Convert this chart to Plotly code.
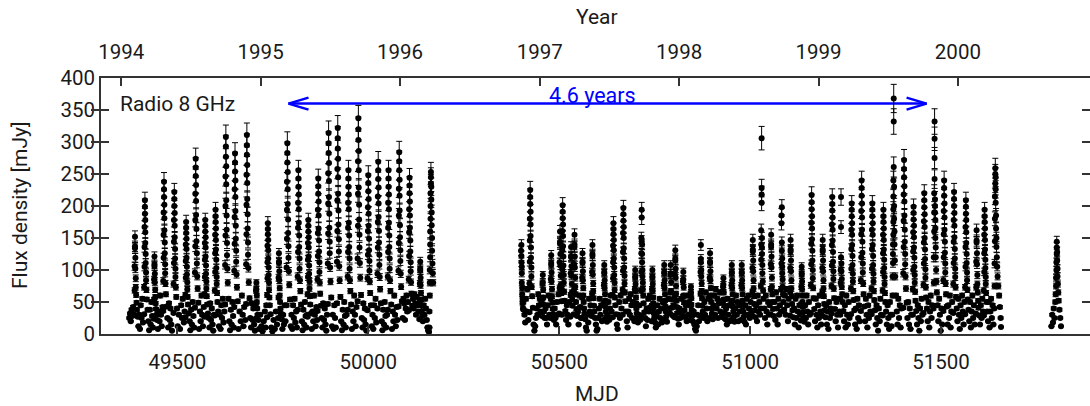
import plotly.graph_objects as go
from datetime import date

# ---- observations read off the reference picture, one row per ~26.5-day outburst cycle ----
# mjd_rows[i] and flux_rows[i] belong together (MJD, flux density in mJy)
mjd_rows = [
    [49374, 49376, 49378, 49380, 49382, 49384, 49385],
    [49387, 49388, 49388, 49389, 49389, 49389, 49390, 49390, 49391, 49391, 49392, 49393, 49394, 49396, 49398, 49400, 49402, 49404, 49406, 49408, 49410],
    [49413, 49413, 49414, 49414, 49414, 49415, 49415, 49415, 49416, 49416, 49416, 49417, 49417, 49418, 49418, 49419, 49420, 49422, 49424, 49426, 49428, 49430, 49432, 49434, 49436],
    [49438, 49439, 49439, 49440, 49440, 49440, 49441, 49441, 49442, 49442, 49443, 49444, 49445, 49447, 49449, 49451, 49453, 49455, 49457, 49459, 49461],
    [49463, 49463, 49464, 49464, 49464, 49465, 49465, 49465, 49466, 49466, 49466, 49467, 49467, 49468, 49468, 49469, 49470, 49472, 49474, 49476, 49478, 49480, 49482, 49484, 49486],
    [49490, 49490, 49491, 49491, 49491, 49492, 49492, 49492, 49493, 49493, 49493, 49494, 49494, 49495, 49495, 49496, 49497, 49499, 49501, 49504, 49507, 49510, 49512, 49514, 49517, 49519],
    [49521, 49521, 49522, 49522, 49522, 49523, 49523, 49523, 49524, 49524, 49524, 49525, 49525, 49526, 49526, 49527, 49528, 49530, 49532, 49534, 49536, 49538, 49540, 49542, 49544],
    [49546, 49546, 49547, 49547, 49547, 49548, 49548, 49548, 49549, 49549, 49549, 49550, 49550, 49551, 49551, 49552, 49553, 49555, 49557, 49559, 49561, 49563, 49565, 49567, 49569],
    [49571, 49571, 49572, 49572, 49572, 49573, 49573, 49573, 49574, 49574, 49574, 49575, 49575, 49576, 49576, 49577, 49578, 49580, 49582, 49584, 49586, 49588, 49590, 49592, 49594, 49596],
    [49598, 49598, 49599, 49599, 49599, 49600, 49600, 49600, 49601, 49601, 49601, 49602, 49602, 49603, 49603, 49604, 49605, 49607, 49609, 49611, 49613, 49615, 49617, 49619, 49621, 49623],
    [49625, 49625, 49626, 49626, 49626, 49627, 49627, 49627, 49628, 49628, 49628, 49629, 49629, 49630, 49630, 49631, 49632, 49634, 49636, 49638, 49640, 49642, 49644, 49646, 49648],
    [49649, 49649, 49650, 49650, 49650, 49651, 49651, 49651, 49652, 49652, 49652, 49653, 49653, 49654, 49654, 49655, 49656, 49658, 49660, 49663, 49666, 49669, 49671, 49673, 49675, 49678],
    [49680, 49680, 49681, 49681, 49681, 49682, 49682, 49682, 49683, 49683, 49683, 49684, 49684, 49685, 49685, 49686, 49687, 49689, 49691, 49693, 49695, 49697, 49699, 49701, 49703],
    [49705, 49706, 49706, 49707, 49707, 49708, 49708, 49709, 49710, 49712, 49714, 49717, 49720, 49723, 49726, 49729, 49731, 49733],
    [49735, 49735, 49736, 49736, 49736, 49737, 49737, 49737, 49738, 49738, 49738, 49739, 49739, 49740, 49740, 49741, 49742, 49744, 49746, 49749, 49752, 49755, 49758, 49761],
    [49764, 49765, 49765, 49766, 49766, 49766, 49767, 49767, 49768, 49768, 49769, 49770, 49771, 49773, 49775, 49777, 49779, 49781, 49783],
    [49786, 49786, 49787, 49787, 49787, 49788, 49788, 49788, 49789, 49789, 49789, 49790, 49790, 49791, 49791, 49792, 49793, 49795, 49797, 49799, 49801, 49803, 49805, 49807, 49809, 49811, 49813],
    [49815, 49815, 49816, 49816, 49816, 49817, 49817, 49817, 49818, 49818, 49818, 49819, 49819, 49820, 49820, 49821, 49822, 49824, 49826, 49828, 49830, 49832, 49834, 49836, 49838, 49840],
    [49841, 49841, 49842, 49842, 49842, 49843, 49843, 49843, 49844, 49844, 49844, 49845, 49845, 49846, 49846, 49847, 49848, 49850, 49852, 49854, 49856, 49858, 49860, 49862, 49864, 49866],
    [49867, 49867, 49868, 49868, 49868, 49869, 49869, 49869, 49870, 49870, 49870, 49871, 49871, 49872, 49872, 49873, 49874, 49876, 49878, 49880, 49882, 49884, 49886, 49888, 49890, 49892],
    [49894, 49894, 49895, 49895, 49895, 49896, 49896, 49896, 49897, 49897, 49897, 49898, 49898, 49899, 49899, 49900, 49901, 49903, 49905, 49907, 49909, 49911, 49913, 49915],
    [49918, 49918, 49919, 49919, 49919, 49920, 49920, 49920, 49921, 49921, 49921, 49922, 49922, 49923, 49923, 49924, 49925, 49927, 49929, 49931, 49933, 49935, 49937, 49939, 49941, 49943],
    [49946, 49946, 49947, 49947, 49947, 49948, 49948, 49948, 49949, 49949, 49949, 49950, 49950, 49951, 49951, 49952, 49953, 49955, 49957, 49959, 49961, 49963, 49965, 49967, 49969],
    [49972, 49972, 49973, 49973, 49973, 49974, 49974, 49974, 49975, 49975, 49975, 49976, 49976, 49977, 49977, 49978, 49979, 49981, 49983, 49985, 49987, 49989, 49991, 49993, 49995],
    [49998, 49998, 49999, 49999, 49999, 50000, 50000, 50000, 50001, 50001, 50001, 50002, 50002, 50003, 50003, 50004, 50005, 50007, 50009, 50011, 50013, 50015, 50017, 50019, 50021],
    [50024, 50024, 50025, 50025, 50025, 50026, 50026, 50026, 50027, 50027, 50027, 50028, 50028, 50029, 50029, 50030, 50031, 50033, 50035, 50037, 50039, 50041, 50043, 50045, 50047, 50049],
    [50051, 50051, 50052, 50052, 50052, 50053, 50053, 50053, 50054, 50054, 50054, 50055, 50055, 50056, 50056, 50057, 50058, 50060, 50062, 50064, 50066, 50068, 50070, 50072, 50074, 50076],
    [50079, 50079, 50080, 50080, 50080, 50081, 50081, 50081, 50082, 50082, 50082, 50083, 50083, 50084, 50084, 50085, 50086, 50088, 50090, 50092, 50094, 50096, 50098, 50100, 50102, 50104],
    [50106, 50106, 50107, 50107, 50107, 50108, 50108, 50108, 50109, 50109, 50109, 50110, 50110, 50111, 50111, 50112, 50113, 50115, 50117, 50119, 50121, 50123, 50125, 50127, 50129, 50131],
    [50134, 50135, 50135, 50136, 50136, 50136, 50137, 50137, 50138, 50138, 50139, 50140, 50141, 50143, 50145, 50147, 50149, 50151, 50153, 50155, 50157],
    [50159, 50160, 50160, 50161, 50161, 50161, 50162, 50162, 50162, 50163, 50163, 50163, 50164, 50164, 50164, 50165, 50165, 50166, 50166, 50167, 50167, 50168, 50169, 50170],
    [50400, 50401, 50401, 50401, 50402, 50402, 50402, 50403, 50403, 50404, 50404, 50405, 50406, 50407, 50409, 50411, 50413, 50415, 50417, 50419],
    [50422, 50422, 50423, 50423, 50423, 50424, 50424, 50424, 50425, 50425, 50425, 50426, 50426, 50427, 50427, 50428, 50429, 50431, 50433, 50435, 50437, 50439, 50441, 50443, 50445, 50447],
    [50455, 50456, 50456, 50457, 50457, 50458, 50458, 50459, 50460, 50462, 50449, 50451, 50453, 50464, 50466, 50468, 50470, 50472, 50474],
    [50477, 50478, 50478, 50479, 50479, 50479, 50480, 50480, 50481, 50481, 50482, 50483, 50484, 50486, 50488, 50490, 50492, 50494, 50496, 50498],
    [50500, 50501, 50501, 50502, 50502, 50502, 50503, 50503, 50504, 50504, 50505, 50506],
    [50507, 50507, 50508, 50508, 50508, 50509, 50509, 50509, 50510, 50510, 50510, 50511, 50511, 50512, 50512, 50513, 50514, 50516, 50518, 50520, 50522, 50524, 50526],
    [50529, 50530, 50530, 50531, 50531, 50531, 50532, 50532, 50533, 50533, 50534, 50535],
    [50538, 50539, 50539, 50540, 50540, 50540, 50541, 50541, 50542, 50542, 50543, 50544, 50545, 50547, 50549, 50551, 50553, 50555, 50557],
    [50559, 50560, 50560, 50561, 50561, 50561, 50562, 50562, 50563, 50563, 50564, 50565, 50566, 50568, 50570, 50572, 50574, 50576, 50578, 50580, 50582],
    [50585, 50586, 50586, 50587, 50587, 50587, 50588, 50588, 50589, 50589, 50590, 50591, 50592, 50594, 50596, 50598, 50600, 50602, 50604, 50606, 50608, 50610, 50612],
    [50616, 50617, 50617, 50618, 50618, 50618, 50619, 50619, 50620, 50620, 50621, 50622, 50623, 50625, 50627, 50629, 50631, 50633, 50635, 50637],
    [50640, 50640, 50641, 50641, 50641, 50642, 50642, 50642, 50643, 50643, 50643, 50644, 50644, 50645, 50645, 50646, 50647, 50649, 50651, 50653, 50655, 50657, 50659, 50661, 50663],
    [50666, 50666, 50667, 50667, 50667, 50668, 50668, 50668, 50669, 50669, 50669, 50670, 50670, 50671, 50671, 50672, 50673, 50675, 50677, 50679, 50681, 50683, 50685, 50687, 50689, 50691, 50693],
    [50697, 50698, 50698, 50699, 50699, 50699, 50700, 50700, 50701, 50701, 50702, 50703, 50704, 50706, 50708, 50710, 50712],
    [50714, 50714, 50715, 50715, 50715, 50716, 50716, 50716, 50717, 50717, 50717, 50718, 50718, 50719, 50719, 50720, 50721, 50723, 50725, 50727, 50729, 50731, 50733, 50735, 50737, 50739],
    [50742, 50743, 50743, 50744, 50744, 50744, 50745, 50745, 50746, 50746, 50747, 50748, 50749, 50751, 50753, 50755, 50757, 50759, 50761, 50763, 50765, 50767, 50769, 50771],
    [50773, 50774, 50774, 50775, 50775, 50775, 50776, 50776, 50777, 50777, 50778, 50779, 50780, 50782, 50784, 50786, 50788],
    [50790, 50791, 50791, 50792, 50792, 50793, 50793, 50794, 50795, 50797, 50799],
    [50802, 50803, 50803, 50804, 50804, 50804, 50805, 50805, 50806, 50806, 50807, 50808, 50809, 50811, 50813, 50815, 50817, 50819, 50821],
    [50823, 50824, 50824, 50825, 50825, 50826, 50826, 50827, 50828, 50830, 50832, 50834, 50836, 50838, 50840],
    [50843, 50844, 50844, 50845, 50845, 50846, 50846, 50847, 50848, 50850, 50852, 50854, 50856, 50858, 50860, 50862, 50864, 50866],
    [50869, 50870, 50870, 50871, 50871, 50871, 50872, 50872, 50873, 50873, 50874, 50875, 50876, 50878, 50880, 50882, 50884, 50886, 50888, 50890],
    [50893, 50894, 50894, 50895, 50895, 50895, 50896, 50896, 50897, 50897, 50898, 50899, 50900, 50902, 50904, 50906, 50908, 50910, 50912, 50914, 50916, 50918, 50920, 50922, 50924, 50926],
    [50928, 50929, 50929, 50930, 50930, 50931, 50931, 50932, 50933, 50935, 50937, 50939, 50941, 50943, 50945, 50947],
    [50950, 50951, 50951, 50952, 50952, 50952, 50953, 50953, 50954, 50954, 50955, 50956, 50957, 50959, 50961, 50963, 50965, 50967, 50969, 50971, 50973],
    [50976, 50977, 50977, 50978, 50978, 50978, 50979, 50979, 50980, 50980, 50981, 50982, 50983, 50985, 50987, 50989, 50991, 50993, 50995, 50997, 50999, 51001, 51003],
    [51005, 51006, 51006, 51007, 51007, 51007, 51008, 51008, 51009, 51009, 51010, 51011, 51012, 51014, 51016, 51018, 51020, 51022, 51024, 51026],
    [51028, 51028, 51029, 51029, 51029, 51030, 51030, 51030, 51030, 51031, 51031, 51031, 51032, 51032, 51033, 51034, 51035, 51037, 51039, 51041, 51043, 51045, 51047, 51049, 51051],
    [51053, 51054, 51054, 51055, 51055, 51055, 51056, 51056, 51057, 51057, 51058, 51059, 51060, 51062, 51064, 51066, 51068, 51070, 51072, 51074, 51076, 51078],
    [51081, 51081, 51082, 51082, 51082, 51083, 51083, 51083, 51084, 51084, 51084, 51085, 51085, 51086, 51087, 51089, 51091, 51093, 51095, 51097, 51099, 51101],
    [51104, 51105, 51105, 51106, 51106, 51106, 51107, 51107, 51108, 51108, 51109, 51110, 51111, 51113, 51115, 51117, 51119, 51121, 51123, 51125, 51127, 51129, 51131],
    [51133, 51134, 51134, 51135, 51135, 51135, 51136, 51136, 51137, 51137, 51138, 51139, 51140, 51142, 51144, 51146, 51148, 51150, 51152, 51154, 51156],
    [51159, 51159, 51160, 51160, 51160, 51161, 51161, 51161, 51162, 51162, 51162, 51163, 51163, 51164, 51164, 51165, 51166, 51168, 51170, 51172, 51174, 51176, 51178, 51180, 51182, 51184, 51186],
    [51188, 51189, 51189, 51190, 51190, 51190, 51191, 51191, 51192, 51192, 51193, 51194, 51195, 51197, 51199, 51201, 51203, 51205, 51207, 51209, 51211],
    [51213, 51213, 51214, 51214, 51214, 51215, 51215, 51215, 51216, 51216, 51216, 51217, 51217, 51218, 51218, 51219, 51220, 51222, 51224, 51226, 51228, 51230, 51232, 51234],
    [51236, 51236, 51237, 51237, 51238, 51238, 51238, 51239, 51239, 51240, 51240, 51241, 51242, 51244, 51246, 51248, 51250, 51252, 51254, 51256, 51258, 51260],
    [51264, 51264, 51265, 51265, 51265, 51266, 51266, 51266, 51267, 51267, 51267, 51268, 51268, 51269, 51269, 51270, 51271, 51273, 51275, 51277, 51279, 51281, 51283, 51285, 51287],
    [51290, 51290, 51291, 51291, 51291, 51292, 51292, 51292, 51293, 51293, 51293, 51294, 51294, 51295, 51295, 51296, 51297, 51299, 51301, 51303, 51305, 51307, 51309, 51311, 51313, 51315],
    [51318, 51318, 51319, 51319, 51319, 51320, 51320, 51320, 51321, 51321, 51321, 51322, 51322, 51323, 51323, 51324, 51325, 51327, 51329, 51331, 51333, 51335, 51337, 51339, 51341, 51343],
    [51347, 51347, 51348, 51348, 51348, 51349, 51349, 51349, 51350, 51350, 51350, 51351, 51351, 51352, 51352, 51353, 51354, 51356, 51358, 51360, 51362, 51364, 51366, 51368, 51370],
    [51372, 51373, 51373, 51374, 51374, 51374, 51375, 51375, 51375, 51375, 51375, 51376, 51376, 51376, 51377, 51377, 51377, 51378, 51378, 51379, 51380, 51382, 51384, 51386, 51388, 51390, 51392, 51394, 51396],
    [51401, 51401, 51402, 51402, 51402, 51403, 51403, 51403, 51404, 51404, 51404, 51405, 51405, 51406, 51406, 51407, 51408, 51410, 51412, 51414, 51416, 51418, 51420, 51422],
    [51426, 51426, 51427, 51427, 51427, 51428, 51428, 51428, 51429, 51429, 51429, 51430, 51430, 51431, 51431, 51432, 51433, 51435, 51437, 51439, 51441, 51443, 51445, 51447, 51449, 51451],
    [51454, 51454, 51455, 51455, 51455, 51456, 51456, 51456, 51457, 51457, 51457, 51458, 51458, 51459, 51459, 51460, 51461, 51463, 51465, 51467, 51469, 51471, 51473, 51475, 51477],
    [51480, 51481, 51481, 51482, 51482, 51482, 51483, 51483, 51483, 51483, 51484, 51484, 51484, 51485, 51485, 51485, 51486, 51486, 51487, 51488, 51489, 51491, 51493, 51495, 51497, 51499, 51501, 51503],
    [51506, 51506, 51507, 51507, 51507, 51508, 51508, 51508, 51509, 51509, 51509, 51510, 51510, 51511, 51511, 51512, 51513, 51515, 51517, 51519, 51521, 51523, 51525, 51527, 51529],
    [51532, 51532, 51533, 51533, 51533, 51534, 51534, 51534, 51535, 51535, 51535, 51536, 51536, 51537, 51537, 51538, 51539, 51541, 51543, 51545, 51547, 51549, 51551, 51553, 51555, 51557, 51559, 51561],
    [51563, 51563, 51564, 51564, 51564, 51565, 51565, 51565, 51566, 51566, 51566, 51567, 51567, 51568, 51568, 51569, 51570, 51572, 51574, 51576, 51578, 51580, 51582, 51584, 51586, 51588],
    [51591, 51592, 51592, 51593, 51593, 51593, 51594, 51594, 51595, 51595, 51596, 51597, 51598, 51600, 51602, 51604, 51606, 51608, 51610],
    [51612, 51612, 51613, 51613, 51613, 51614, 51614, 51614, 51615, 51615, 51615, 51616, 51616, 51617, 51617, 51618, 51619, 51621, 51623, 51625, 51627, 51629, 51631, 51633, 51635, 51637],
    [51639, 51640, 51640, 51641, 51641, 51641, 51642, 51642, 51642, 51643, 51643, 51643, 51644, 51644, 51645, 51645, 51646, 51647, 51648, 51650, 51652, 51654, 51656, 51657],
    [51789, 51791, 51793, 51795, 51797, 51799, 51800, 51801, 51801, 51802, 51802, 51803, 51803, 51803, 51804, 51804, 51805, 51805, 51806, 51807, 51808, 51810, 51812, 51814],
]

flux_rows = [
    [25, 32, 20, 38, 28, 42, 30],
    [30, 68, 106, 134, 152, 137, 119, 102, 87, 73, 61, 49, 38, 27, 12, 30, 8, 45, 25, 55, 18],
    [31, 73, 105, 136, 167, 188, 209, 199, 178, 159, 142, 125, 111, 96, 84, 69, 54, 38, 20, 6, 38, 15, 50, 28, 10],
    [24, 54, 85, 106, 121, 109, 94, 81, 69, 58, 48, 39, 30, 22, 8, 35, 20, 60, 30, 12, 42],
    [36, 83, 119, 155, 190, 214, 238, 226, 202, 181, 162, 143, 126, 109, 95, 79, 62, 43, 25, 10, 48, 22, 40, 15, 5],
    [33, 78, 111, 144, 178, 200, 222, 211, 189, 169, 151, 133, 118, 102, 89, 73, 58, 40, 12, 30, 8, 45, 25, 55, 18, 35],
    [26, 61, 88, 114, 140, 158, 175, 166, 149, 133, 119, 105, 93, 81, 70, 58, 46, 32, 20, 6, 38, 15, 50, 28, 10],
    [41, 96, 137, 178, 219, 247, 274, 260, 233, 208, 186, 164, 145, 126, 110, 90, 71, 49, 8, 35, 20, 60, 30, 12, 42],
    [27, 62, 89, 116, 142, 160, 178, 169, 151, 135, 121, 107, 94, 82, 71, 59, 46, 32, 25, 10, 48, 22, 40, 15, 5, 30],
    [29, 68, 97, 126, 155, 175, 194, 184, 165, 147, 132, 116, 103, 89, 78, 64, 50, 35, 12, 30, 8, 45, 25, 55, 18, 35],
    [46, 108, 154, 200, 246, 277, 308, 293, 262, 234, 209, 185, 163, 142, 123, 102, 80, 55, 20, 6, 38, 15, 50, 28, 10],
    [42, 99, 141, 183, 226, 254, 282, 268, 240, 214, 192, 169, 149, 130, 113, 93, 73, 51, 8, 35, 20, 60, 30, 12, 42, 22],
    [47, 109, 156, 202, 249, 280, 311, 295, 264, 236, 211, 187, 165, 143, 124, 103, 81, 56, 25, 10, 48, 22, 40, 15, 5],
    [24, 48, 68, 80, 70, 60, 50, 40, 30, 22, 8, 30, 12, 4, 20, 35, 10, 45],
    [26, 61, 87, 112, 138, 156, 173, 164, 147, 131, 118, 104, 92, 80, 69, 57, 45, 31, 10, 4, 22, 8, 35, 15],
    [25, 57, 88, 111, 126, 113, 98, 84, 72, 60, 50, 40, 32, 23, 8, 30, 15, 45, 20],
    [45, 104, 149, 194, 238, 268, 298, 283, 253, 226, 203, 179, 158, 137, 119, 98, 77, 54, 12, 30, 8, 45, 25, 55, 18, 35, 10],
    [38, 90, 128, 166, 205, 230, 256, 243, 218, 195, 174, 154, 136, 118, 102, 84, 67, 46, 20, 6, 38, 15, 50, 28, 10, 30],
    [27, 62, 89, 116, 142, 160, 178, 169, 151, 135, 121, 107, 94, 82, 71, 59, 46, 32, 8, 35, 20, 60, 30, 12, 42, 22],
    [36, 85, 122, 158, 194, 219, 243, 231, 207, 185, 165, 146, 129, 112, 97, 80, 63, 44, 25, 10, 48, 22, 40, 15, 5, 30],
    [47, 110, 157, 204, 251, 283, 314, 298, 267, 239, 214, 188, 166, 144, 126, 104, 82, 57, 12, 30, 8, 45, 25, 10],
    [48, 113, 161, 209, 258, 290, 322, 306, 274, 245, 219, 193, 171, 148, 129, 106, 84, 58, 20, 6, 38, 15, 50, 28, 10, 30],
    [38, 90, 128, 166, 205, 230, 256, 243, 218, 195, 174, 154, 136, 118, 102, 84, 67, 46, 8, 35, 20, 60, 30, 12, 42],
    [51, 118, 169, 219, 270, 303, 337, 320, 286, 256, 229, 202, 179, 155, 135, 111, 88, 61, 25, 10, 48, 22, 40, 15, 5],
    [37, 87, 124, 161, 198, 223, 248, 236, 211, 188, 169, 149, 131, 114, 99, 82, 64, 45, 12, 30, 8, 45, 25, 55, 18],
    [40, 94, 135, 175, 215, 242, 269, 256, 229, 204, 183, 161, 143, 124, 108, 89, 70, 48, 20, 6, 38, 15, 50, 28, 10, 30],
    [38, 90, 128, 166, 205, 230, 256, 243, 218, 195, 174, 154, 136, 118, 102, 84, 67, 46, 8, 35, 20, 60, 30, 12, 42, 22],
    [43, 99, 142, 185, 227, 256, 284, 270, 241, 216, 193, 170, 151, 131, 114, 94, 74, 51, 25, 55, 48, 22, 40, 60, 35, 50],
    [37, 85, 122, 159, 195, 220, 244, 232, 207, 185, 166, 146, 129, 112, 98, 81, 63, 44, 55, 40, 62, 48, 30, 58, 45, 35],
    [23, 51, 79, 99, 113, 102, 88, 76, 64, 54, 45, 36, 28, 20, 45, 30, 55, 40, 22, 10, 5],
    [3, 10, 35, 60, 80, 100, 120, 140, 160, 180, 200, 220, 235, 253, 245, 230, 210, 190, 170, 150, 130, 110, 95, 80],
    [130, 139, 122, 112, 105, 95, 80, 72, 62, 55, 48, 40, 50, 38, 30, 18, 55, 35, 70, 22],
    [34, 79, 113, 146, 180, 203, 225, 214, 191, 171, 153, 135, 119, 104, 90, 74, 59, 41, 15, 5, 12, 25, 40, 30, 62, 45],
    [28, 55, 78, 92, 81, 69, 57, 46, 35, 25, 55, 35, 50, 40, 25, 15, 45, 60, 30],
    [25, 55, 86, 108, 123, 111, 96, 82, 70, 59, 49, 39, 31, 22, 40, 25, 15, 50, 30, 62],
    [32, 72, 112, 141, 160, 144, 125, 107, 91, 77, 64, 51],
    [30, 70, 101, 131, 161, 181, 201, 191, 171, 153, 137, 121, 107, 92, 80, 66, 52, 36, 22, 45, 30, 15, 50],
    [27, 61, 95, 120, 136, 122, 106, 91, 78, 65, 54, 44],
    [31, 70, 109, 136, 155, 140, 121, 104, 88, 74, 62, 50, 39, 28, 35, 15, 60, 42, 25],
    [25, 57, 88, 111, 126, 113, 98, 84, 72, 60, 50, 40, 32, 23, 10, 5, 30, 18, 55, 35, 45],
    [28, 63, 97, 122, 139, 125, 108, 93, 79, 67, 56, 44, 35, 25, 15, 5, 8, 25, 40, 55, 30, 45, 20],
    [22, 49, 76, 95, 108, 97, 84, 72, 62, 52, 43, 35, 27, 19, 30, 50, 22, 40, 60, 35],
    [26, 61, 87, 112, 138, 156, 173, 164, 147, 131, 118, 104, 92, 80, 69, 57, 45, 31, 15, 8, 30, 50, 25, 60, 40],
    [30, 69, 99, 128, 158, 177, 197, 187, 167, 150, 134, 118, 104, 91, 79, 65, 51, 35, 20, 10, 35, 55, 30, 62, 45, 25, 50],
    [20, 45, 70, 88, 100, 90, 78, 67, 57, 48, 40, 32, 25, 18, 30, 45, 22],
    [29, 68, 97, 126, 150, 182, 194, 145, 140, 125, 112, 100, 90, 80, 70, 60, 48, 34, 25, 12, 40, 22, 55, 35, 60, 42],
    [20, 45, 70, 88, 100, 90, 78, 67, 57, 48, 40, 32, 25, 18, 10, 28, 45, 15, 35, 55, 25, 40, 18, 50],
    [22, 49, 76, 95, 108, 97, 84, 72, 62, 52, 43, 35, 27, 19, 35, 55, 40],
    [32, 65, 92, 108, 95, 81, 67, 54, 41, 29, 45],
    [26, 59, 92, 115, 131, 118, 102, 88, 75, 63, 52, 42, 33, 24, 15, 40, 25, 55, 35],
    [29, 58, 82, 97, 85, 73, 60, 49, 37, 26, 45, 20, 60, 30, 50],
    [22, 44, 63, 74, 65, 56, 46, 37, 28, 20, 35, 15, 8, 5, 12, 30, 45, 20],
    [28, 63, 97, 117, 139, 112, 100, 90, 79, 67, 56, 44, 35, 25, 50, 30, 65, 40, 20, 55],
    [25, 57, 88, 111, 126, 113, 98, 84, 72, 60, 50, 40, 32, 23, 45, 60, 30, 70, 40, 55, 25, 48, 65, 35, 50, 28],
    [26, 52, 74, 87, 77, 65, 54, 44, 33, 23, 40, 15, 55, 30, 45, 20],
    [22, 49, 76, 95, 108, 97, 84, 72, 62, 52, 43, 35, 27, 19, 40, 60, 30, 50, 20, 45, 35],
    [22, 49, 76, 95, 108, 97, 84, 72, 62, 52, 43, 35, 27, 19, 45, 15, 55, 30, 60, 40, 25, 50, 35],
    [29, 66, 103, 129, 147, 132, 115, 98, 84, 71, 59, 47, 37, 26, 45, 20, 60, 35, 50, 30],
    [40, 75, 116, 140, 162, 306, 228, 218, 205, 150, 135, 125, 108, 95, 82, 68, 55, 40, 25, 60, 35, 15, 50, 30, 45],
    [31, 70, 109, 136, 155, 140, 121, 104, 88, 74, 62, 50, 39, 28, 50, 22, 65, 40, 15, 55, 30, 45],
    [35, 70, 110, 173, 185, 198, 143, 130, 118, 105, 95, 85, 74, 62, 50, 38, 60, 30, 70, 45, 20, 55],
    [29, 66, 103, 129, 147, 132, 115, 98, 84, 71, 59, 47, 37, 26, 40, 15, 55, 25, 60, 35, 10, 45, 30],
    [21, 47, 74, 92, 105, 95, 82, 70, 60, 50, 42, 34, 26, 19, 45, 25, 60, 35, 15, 50, 30],
    [33, 76, 109, 141, 174, 195, 217, 206, 184, 165, 148, 130, 115, 100, 87, 72, 56, 39, 20, 55, 30, 10, 45, 25, 60, 35, 15],
    [29, 66, 103, 129, 147, 132, 115, 98, 84, 71, 59, 47, 37, 26, 45, 15, 35, 8, 50, 25, 40],
    [32, 75, 107, 139, 171, 193, 214, 203, 182, 163, 146, 128, 113, 98, 86, 71, 56, 39, 20, 50, 30, 10, 55, 35],
    [30, 55, 80, 100, 214, 167, 120, 110, 98, 86, 74, 62, 50, 36, 20, 45, 10, 60, 30, 15, 50, 25],
    [31, 71, 102, 133, 163, 184, 204, 194, 173, 155, 139, 122, 108, 94, 82, 67, 53, 37, 15, 40, 8, 55, 25, 45, 20],
    [36, 84, 120, 156, 192, 216, 240, 228, 204, 182, 163, 144, 127, 110, 96, 79, 62, 43, 20, 55, 30, 10, 45, 25, 60, 35],
    [31, 71, 102, 133, 163, 184, 204, 194, 173, 155, 139, 122, 108, 94, 82, 67, 53, 37, 15, 45, 25, 5, 40, 20, 55, 30],
    [29, 68, 97, 126, 155, 175, 194, 184, 165, 147, 132, 116, 103, 89, 78, 64, 50, 35, 15, 45, 25, 8, 50, 30, 12],
    [30, 60, 90, 111, 125, 140, 155, 175, 195, 215, 240, 261, 368, 332, 230, 200, 180, 160, 140, 115, 90, 60, 35, 15, 55, 25, 45, 10, 40],
    [41, 95, 136, 177, 218, 245, 272, 258, 231, 207, 185, 163, 144, 125, 109, 90, 71, 49, 25, 50, 15, 40, 8, 30],
    [30, 70, 100, 129, 159, 179, 199, 189, 169, 151, 135, 119, 105, 92, 80, 66, 52, 36, 15, 45, 25, 5, 40, 20, 55, 30],
    [33, 77, 110, 143, 176, 198, 220, 209, 187, 167, 150, 132, 117, 101, 88, 73, 57, 40, 20, 50, 10, 35, 60, 25, 45],
    [40, 80, 120, 160, 190, 220, 242, 275, 305, 332, 210, 200, 190, 178, 165, 150, 135, 120, 100, 82, 65, 45, 20, 55, 30, 5, 40, 15],
    [36, 84, 120, 156, 192, 216, 240, 228, 204, 182, 163, 144, 127, 110, 96, 79, 62, 43, 15, 45, 25, 60, 10, 35, 50],
    [33, 78, 111, 144, 178, 200, 222, 211, 189, 169, 151, 133, 118, 102, 89, 73, 58, 40, 20, 55, 30, 8, 45, 25, 60, 35, 15, 50],
    [31, 73, 105, 136, 167, 188, 209, 199, 178, 159, 142, 125, 111, 96, 84, 69, 54, 38, 20, 50, 10, 35, 60, 25, 45, 15],
    [32, 73, 113, 143, 162, 146, 126, 109, 92, 78, 65, 52, 41, 29, 15, 45, 25, 55, 35],
    [29, 68, 97, 126, 155, 175, 194, 184, 165, 147, 132, 116, 103, 89, 78, 64, 50, 35, 20, 50, 10, 35, 55, 25, 45, 15],
    [40, 75, 110, 145, 180, 215, 235, 250, 259, 245, 226, 205, 185, 165, 150, 136, 120, 105, 90, 75, 60, 42, 25, 11],
    [12, 30, 18, 40, 25, 50, 62, 75, 88, 100, 112, 125, 135, 144, 128, 115, 102, 90, 78, 65, 52, 38, 25, 12],
]

flux_error_percent = 6

# ---- axes ----
mjd_ticks = [49500, 50000, 50500, 51000, 51500]
mjd_range = [49300, 51890]
flux_ticks = [0, 50, 100, 150, 200, 250, 300, 350, 400]
flux_range = [0, 400]
year_labels = [1994, 1995, 1996, 1997, 1998, 1999, 2000]

# ---- annotations ----
arrow_start = 49791
arrow_end = 51462
arrow_level = 360
period_text = "4.6 years"
period_text_x = 50588
period_text_y = 373
source_text = "Radio 8 GHz"

bad = [i for i, (a, b) in enumerate(zip(mjd_rows, flux_rows)) if len(a) != len(b)]
assert len(mjd_rows) == len(flux_rows) and not bad, ("row length mismatch", bad,
    [(len(mjd_rows[i]), len(flux_rows[i])) for i in bad], len(mjd_rows), len(flux_rows))

mjd = [v for row in mjd_rows for v in row]
flux = [v for row in flux_rows for v in row]

mjd_epoch = date(1858, 11, 17)
year_mjd = [(date(y, 1, 1) - mjd_epoch).days for y in year_labels]

ink = "#1a1a1a"
axis_col = "#333333"
blue = "#0000ff"
family = "Roboto, 'Open Sans', Arial, sans-serif"
tick_font = dict(family=family, size=20.5, color=ink)
label_font = dict(family=family, size=21, color=ink)

fig = go.Figure()
fig.add_trace(go.Scatter(
    x=mjd, y=flux, mode="markers",
    marker=dict(size=6, color="black", line=dict(width=0)),
    error_y=dict(type="percent", value=flux_error_percent, color="black", thickness=1, width=3),
    showlegend=False, hoverinfo="skip",
))
# invisible trace to activate the top (year) axis
fig.add_trace(go.Scatter(
    x=[year_mjd[0]], y=[flux_range[0]], xaxis="x2", mode="markers",
    marker=dict(opacity=0), showlegend=False, hoverinfo="skip",
))

axis_common = dict(
    showline=True, linecolor=axis_col, linewidth=1.5,
    ticks="inside", ticklen=8, tickwidth=1.5, tickcolor=axis_col,
    showgrid=False, zeroline=False, tickfont=tick_font, automargin=False,
)

# plot area at window x 101..1090, y 78..334
W, H = 1090, 406
L, R, T, B = 101, 0, 78, 72
pw, ph = W - L - R, H - T - B


def px_x(x):
    return (x - L) / pw


def px_y(y):
    return (H - B - y) / ph


fig.update_layout(
    width=W, height=H,
    margin=dict(l=L, r=R, t=T, b=B, autoexpand=False),
    plot_bgcolor="white", paper_bgcolor="white",
    font=tick_font,
    xaxis=dict(range=mjd_range, tickmode="array", tickvals=mjd_ticks,
               ticktext=[str(v) for v in mjd_ticks], ticklabelstandoff=9, **axis_common),
    xaxis2=dict(range=mjd_range, overlaying="x", side="top", anchor="y",
                tickmode="array", tickvals=year_mjd,
                ticktext=[str(y) for y in year_labels], ticklabelstandoff=9, **axis_common),
    yaxis=dict(range=flux_range, tickmode="array", tickvals=flux_ticks,
               mirror="allticks", **axis_common),
    shapes=[
        dict(type="line", xref="x", yref="y", x0=arrow_start, x1=arrow_end,
             y0=arrow_level, y1=arrow_level, line=dict(color=blue, width=2.5), layer="below"),
        dict(type="line", xref="x", yref="y", xsizemode="pixel", ysizemode="pixel",
             xanchor=arrow_start, yanchor=arrow_level, x0=0, x1=20, y0=0, y1=6,
             line=dict(color=blue, width=2.5), layer="below"),
        dict(type="line", xref="x", yref="y", xsizemode="pixel", ysizemode="pixel",
             xanchor=arrow_start, yanchor=arrow_level, x0=0, x1=20, y0=0, y1=-6,
             line=dict(color=blue, width=2.5), layer="below"),
        dict(type="line", xref="x", yref="y", xsizemode="pixel", ysizemode="pixel",
             xanchor=arrow_end, yanchor=arrow_level, x0=0, x1=-20, y0=0, y1=6,
             line=dict(color=blue, width=2.5), layer="below"),
        dict(type="line", xref="x", yref="y", xsizemode="pixel", ysizemode="pixel",
             xanchor=arrow_end, yanchor=arrow_level, x0=0, x1=-20, y0=0, y1=-6,
             line=dict(color=blue, width=2.5), layer="below"),
    ],
    annotations=[
        dict(text=period_text, x=period_text_x, y=period_text_y, xref="x", yref="y",
             showarrow=False, xanchor="center", yanchor="middle",
             font=dict(family=family, size=21.5, color=blue)),
        dict(text=source_text, x=px_x(118), y=px_y(104), xref="paper", yref="paper",
             showarrow=False, xanchor="left", yanchor="middle", font=label_font),
        dict(text="MJD", x=px_x(597), y=px_y(394), xref="paper", yref="paper",
             showarrow=False, xanchor="center", yanchor="middle", font=label_font),
        dict(text="Year", x=px_x(597), y=px_y(17), xref="paper", yref="paper",
             showarrow=False, xanchor="center", yanchor="middle", font=label_font),
        dict(text="Flux density [mJy]", x=px_x(20), y=px_y(205), xref="paper", yref="paper",
             showarrow=False, xanchor="center", yanchor="middle", textangle=-90, font=label_font),
    ],
)

# remove the page's default 8 px body margin so the figure fills the window exactly
fig.write_html("out.html", config={"displayModeBar": False},
               post_script="document.body.style.margin='0px';")
